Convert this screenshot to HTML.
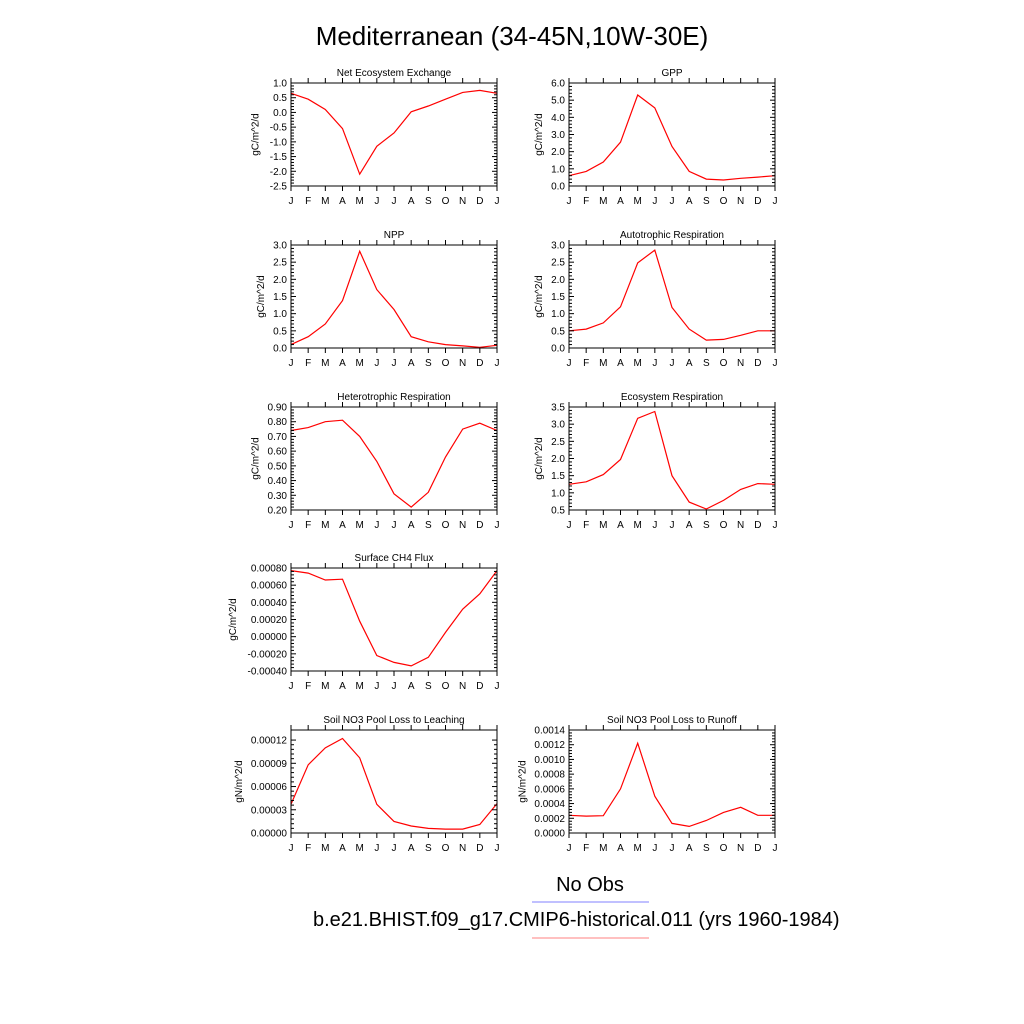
<!DOCTYPE html>
<html><head><meta charset="utf-8"><style>
body{margin:0;background:#fff;}
svg{display:block;font-family:"Liberation Sans",sans-serif;}
</style></head><body>
<svg id="fig" width="1024" height="1024" viewBox="0 0 1024 1024">
<text x="512" y="45" font-size="26" text-anchor="middle">Mediterranean (34-45N,10W-30E)</text>
<text x="590" y="891" font-size="20" text-anchor="middle">No Obs</text>
<line x1="532" y1="902" x2="649" y2="902" stroke="#8080ff" stroke-width="1"/>
<text x="313" y="926" font-size="20">b.e21.BHIST.f09_g17.CMIP6-historical.011 (yrs 1960-1984)</text>
<line x1="532" y1="938" x2="649" y2="938" stroke="#ff8080" stroke-width="1"/>
</svg>
<script>
const months = ["J","F","M","A","M","J","J","A","S","O","N","D","J"];
const neeValues = [0.65,0.45,0.1,-0.55,-2.1,-1.15,-0.7,0.02,0.22,0.45,0.68,0.75,0.65];
const gppValues = [0.6,0.85,1.4,2.55,5.3,4.55,2.3,0.85,0.4,0.35,0.45,0.52,0.6];
const nppValues = [0.1,0.33,0.7,1.38,2.82,1.7,1.12,0.33,0.18,0.1,0.06,0.02,0.08];
const arValues = [0.5,0.55,0.73,1.2,2.48,2.85,1.18,0.55,0.23,0.25,0.37,0.5,0.5];
const hrValues = [0.74,0.76,0.8,0.81,0.7,0.53,0.31,0.22,0.32,0.56,0.75,0.79,0.74];
const erValues = [1.25,1.32,1.53,1.97,3.17,3.37,1.5,0.73,0.53,0.78,1.1,1.27,1.25];
const ch4Values = [0.00077,0.00074,0.00066,0.00067,0.00018,-0.00022,-0.0003,-0.00034,-0.00024,0.00005,0.00032,0.0005,0.00077];
const leachValues = [0.000037,0.000088,0.00011,0.000122,0.000097,0.000037,0.000015,0.000009,0.000006,0.000005,0.000005,0.000011,0.000038];
const runoffValues = [0.00024,0.00023,0.000235,0.0006,0.00122,0.0005,0.00013,0.00009,0.00017,0.00028,0.00035,0.00024,0.00024];
const neeTicks = ["1.0","0.5","0.0","-0.5","-1.0","-1.5","-2.0","-2.5"];
const gppTicks = ["6.0","5.0","4.0","3.0","2.0","1.0","0.0"];
const nppTicks = ["3.0","2.5","2.0","1.5","1.0","0.5","0.0"];
const hrTicks = ["0.90","0.80","0.70","0.60","0.50","0.40","0.30","0.20"];
const erTicks = ["3.5","3.0","2.5","2.0","1.5","1.0","0.5"];
const ch4Ticks = ["0.00080","0.00060","0.00040","0.00020","0.00000","-0.00020","-0.00040"];
const leachTicks = ["0.00012","0.00009","0.00006","0.00003","0.00000"];
const runoffTicks = ["0.0014","0.0012","0.0010","0.0008","0.0006","0.0004","0.0002","0.0000"];

const NS="http://www.w3.org/2000/svg";
const svg=document.getElementById('fig');
function mk(tag,attrs,parent){const e=document.createElementNS(NS,tag);for(const k in attrs)e.setAttribute(k,attrs[k]);(parent||svg).appendChild(e);return e;}

function panel(name,title,unit,L,T,vals,ticks,ymin,ymax){
  const R=L+206,B=T+103;
  const g=mk('g',{});
  
  
  const x=i=>L+(R-L)*i/12;
  const y=v=>B-(B-T)*(v-ymin)/(ymax-ymin);
  // series
  const pts=vals.map((v,i)=>x(i).toFixed(1)+','+y(v).toFixed(1)).join(' ');
  const pl=mk('polyline',{points:pts,fill:'none',stroke:'#ff0000','stroke-width':1.2},g);
  
  
  // frame
  const fr=mk('rect',{x:L,y:T,width:R-L,height:B-T,fill:'none',stroke:'#000','stroke-width':1},g);
  
  
  // x ticks
  months.forEach((m,i)=>{
    mk('line',{x1:x(i),y1:B,x2:x(i),y2:B+5,stroke:'#000'},g);
    mk('line',{x1:x(i),y1:T,x2:x(i),y2:T-5,stroke:'#000'},g);
    const t=mk('text',{x:x(i),y:B+18,'font-size':10,'text-anchor':'middle'},g);
    t.textContent=m;
    
    
  });
  // y ticks
  const n=ticks.length;
  ticks.forEach((lab,k)=>{
    const v=parseFloat(lab);
    const yy=y(v);
    mk('line',{x1:L,y1:yy,x2:L+5,y2:yy,stroke:'#000'},g);
    mk('line',{x1:R,y1:yy,x2:R-5,y2:yy,stroke:'#000'},g);
    const t=mk('text',{x:L-4,y:yy+3.5,'font-size':10,'text-anchor':'end'},g);
    t.textContent=lab;
    
    
    if(k<n-1){
      const v2=parseFloat(ticks[k+1]);
      for(let j=1;j<5;j++){const vm=v+(v2-v)*j/5;const ym=y(vm);
        mk('line',{x1:L,y1:ym,x2:L+3,y2:ym,stroke:'#000'},g);
        mk('line',{x1:R,y1:ym,x2:R-3,y2:ym,stroke:'#000'},g);}
    }
  });
  const tt=mk('text',{x:(L+R)/2,y:T-7,'font-size':10,'text-anchor':'middle'},g);
  tt.textContent=title;
  
  
  const maxw=Math.max(...ticks.map(s=>s.length));
  const ux=L-10-maxw*5.6;
  const ut=mk('text',{x:ux,y:(T+B)/2,'font-size':10,'text-anchor':'middle',transform:`rotate(-90 ${ux} ${(T+B)/2})`},g);
  ut.textContent=unit;
  
  
}
panel('nee','Net Ecosystem Exchange','gC/m^2/d',291,83,neeValues,neeTicks,-2.5,1.0);
panel('gpp','GPP','gC/m^2/d',569,83,gppValues,gppTicks,0,6);
panel('npp','NPP','gC/m^2/d',291,245,nppValues,nppTicks,0,3);
panel('ar','Autotrophic Respiration','gC/m^2/d',569,245,arValues,nppTicks,0,3);
panel('hr','Heterotrophic Respiration','gC/m^2/d',291,407,hrValues,hrTicks,0.2,0.9);
panel('er','Ecosystem Respiration','gC/m^2/d',569,407,erValues,erTicks,0.5,3.5);
panel('ch4','Surface CH4 Flux','gC/m^2/d',291,568,ch4Values,ch4Ticks,-0.0004,0.0008);
panel('leach','Soil NO3 Pool Loss to Leaching','gN/m^2/d',291,730,leachValues,leachTicks,0,0.000133);
panel('runoff','Soil NO3 Pool Loss to Runoff','gN/m^2/d',569,730,runoffValues,runoffTicks,0,0.0014);
</script>
</body></html>
